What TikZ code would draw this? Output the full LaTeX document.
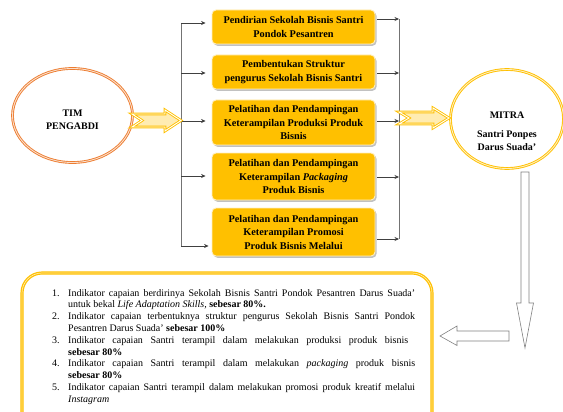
\documentclass[tikz,border=0pt]{standalone}
\usepackage{fontspec}
\setmainfont{Liberation Serif}
\usetikzlibrary{arrows.meta,calc,shapes.geometric,shadows}
\definecolor{gold}{HTML}{FFC000}
\definecolor{orng}{HTML}{ED7D31}
\definecolor{conncol}{HTML}{404040}
\begin{document}
\begin{tikzpicture}[x=1pt,y=-1pt,
  stepbox/.style={fill=gold, draw=gold!25, line width=0.9pt, rounded corners=4pt,
    minimum width=163pt, inner sep=0pt, align=center,
    font=\bfseries\fontsize{10.3}{13.5}\selectfont,
    drop shadow={shadow xshift=1.5pt, shadow yshift=-1.8pt, fill=black!30, opacity=0.8}},
  conn/.style={draw=conncol, line width=0.6pt, -{Stealth[length=4.5pt,width=4pt]}},
  bus/.style={draw=black!55, line width=0.6pt},
  fatarrow/.style={draw=gold, line width=0.9pt, double=white, double distance=0.9pt, fill=gold!30, line join=miter},
  hollow/.style={draw=black!50, line width=0.6pt, fill=white},
  ovaltext/.style={font=\bfseries\fontsize{10}{13.5}\selectfont, align=center, inner sep=0pt}
]
\useasboundingbox (0,0) rectangle (563,412);

% ellipses
\node[ellipse, draw=orng, line width=0.9pt, double=orng!25, double distance=0.9pt,
      minimum width=120pt, minimum height=94pt, inner sep=0pt] (tim) at (72.5,115.5) {};
\node[ovaltext] (timt) at (72.5,120) {TIM\\PENGABDI};

\node[ellipse, draw=gold, line width=0.9pt, double=gold!25, double distance=0.9pt,
      minimum width=113pt, minimum height=99pt, inner sep=0pt] (mitra) at (507,119) {};
\node[ovaltext] (mitrat) at (507,131.5) {MITRA\\[5pt]Santri Ponpes\\Darus Suada’};

% boxes
\node[stepbox, minimum height=34pt] (b1) at (293.5,27) {Pendirian Sekolah Bisnis Santri\\Pondok Pesantren};
\node[stepbox, minimum height=34pt] (b2) at (293.5,72) {Pembentukan Struktur\\pengurus Sekolah Bisnis Santri};
\node[stepbox, minimum height=45pt] (b3) at (293.5,122.5) {Pelatihan dan Pendampingan\\Keterampilan Produksi Produk\\Bisnis};
\node[stepbox, minimum height=47pt] (b4) at (293.5,176.5) {Pelatihan dan Pendampingan\\Keterampilan \textit{Packaging}\\Produk Bisnis};
\node[stepbox, minimum height=48pt] (b5) at (293.5,232) {Pelatihan dan Pendampingan\\Keterampilan Promosi\\Produk Bisnis Melalui};

% left bus
\coordinate (l1) at (181,23);
\coordinate (l2) at (181,73);
\coordinate (l3) at (181,121);
\coordinate (l4) at (181,176);
\coordinate (l5) at (181,246);
\draw[bus] (l1) -- (l5);
\draw[conn, shorten >=6pt] (l1) -- (b1.west |- l1);
\draw[conn, shorten >=6pt] (l2) -- (b2.west |- l2);
\draw[conn, shorten >=6pt] (l3) -- (b3.west |- l3);
\draw[conn, shorten >=6pt] (l4) -- (b4.west |- l4);
\draw[conn, shorten >=3pt] (l5) -- (b5.west |- l5);

% right bus
\coordinate (r1) at (399,19);
\coordinate (r2) at (399,73);
\coordinate (r3) at (399,121);
\coordinate (r4) at (399,177);
\coordinate (r5) at (399,239);
\draw[bus] (r1) -- (r5);
\draw[conn, shorten <=2pt] (b1.east |- r1) -- (r1);
\draw[conn, shorten <=2pt] (b2.east |- r2) -- (r2);
\draw[conn, shorten <=2pt] (b3.east |- r3) -- (r3);
\draw[conn, shorten <=2pt] (b4.east |- r4) -- (r4);
\draw[conn, shorten <=2pt] (b5.east |- r5) -- (r5);

% fat yellow arrows
\draw[fatarrow] (132,114) -- (165,114) -- (165,110) -- (181,120.5) -- (165,131) -- (165,127) -- (132,127) -- (142,120.5) -- cycle;
\draw[fatarrow] (399,112) -- (433,112) -- (433,108) -- (449,118) -- (433,128) -- (433,124) -- (399,124) -- (409,118) -- cycle;

% hollow gray arrows
\draw[hollow] (521,172) -- (529,172) -- (529,303) -- (533.5,303) -- (525,348) -- (516.5,303) -- (521,303) -- cycle;
\draw[hollow] (509,331) -- (457,331) -- (457,326) -- (440,336) -- (457,345.5) -- (457,341) -- (509,341) -- cycle;

% bottom box
\draw[draw=gold, line width=1.2pt, double=gold!35, double distance=0.7pt, rounded corners=20pt] (22,273) rectangle (432,445);

\node[anchor=north west, inner sep=0pt, text width=365pt, align=left,
      font=\fontsize{10}{11.8}\selectfont] (list) at (52,289) {\spaceskip=0pt\xspaceskip=0pt%
\makebox[16pt][l]{1.}\makebox[347pt][s]{Indikator capaian berdirinya Sekolah Bisnis Santri Pondok Pesantren Darus Suada’}\\
\hspace*{16pt}untuk bekal \textit{Life Adaptation Skills,} \textbf{sebesar 80\%.}\\
\makebox[16pt][l]{2.}\makebox[347pt][s]{Indikator capaian terbentuknya struktur pengurus Sekolah Bisnis Santri Pondok}\\
\hspace*{16pt}Pesantren Darus Suada’ \textbf{sebesar 100\%}\\
\makebox[16pt][l]{3.}\makebox[340pt][s]{Indikator capaian Santri terampil dalam melakukan produksi produk bisnis}\\
\hspace*{16pt}\textbf{sebesar 80\%}\\
\makebox[16pt][l]{4.}\makebox[347pt][s]{Indikator capaian Santri terampil dalam melakukan \textit{packaging} produk bisnis}\\
\hspace*{16pt}\textbf{sebesar 80\%}\\
\makebox[16pt][l]{5.}\makebox[347pt][s]{Indikator capaian Santri terampil dalam melakukan promosi produk kreatif melalui}\\
\hspace*{16pt}\textit{Instagram}};
\end{tikzpicture}
\end{document}
